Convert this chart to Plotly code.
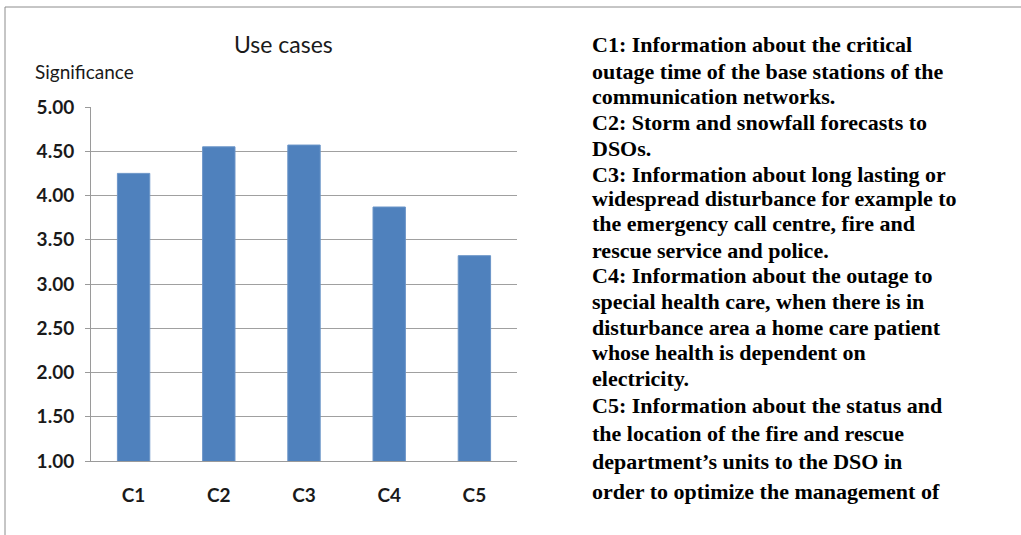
import plotly.graph_objects as go

# data
cases = ["C1", "C2", "C3", "C4", "C5"]
significance = [4.25, 4.55, 4.57, 3.87, 3.32]
y_ticks = [1.0, 1.5, 2.0, 2.5, 3.0, 3.5, 4.0, 4.5, 5.0]

notes = [
    "C1: Information about the critical",
    "outage time of the base stations of the",
    "communication networks.",
    "C2: Storm and snowfall forecasts to",
    "DSOs.",
    "C3: Information about long lasting or",
    "widespread disturbance for example to",
    "the emergency call centre, fire and",
    "rescue service and police.",
    "C4: Information about the outage to",
    "special health care, when there is in",
    "disturbance area a home care patient",
    "whose health is dependent on",
    "electricity.",
    "C5: Information about the status and",
    "the location of the fire and rescue",
    "department\u2019s units to the DSO in",
    "order to optimize the management of",
]
note_y = [45, 71, 96, 122, 148, 174, 198, 223, 250, 275, 301, 327, 352, 378, 405, 433, 462, 491]

W, H = 1021, 535
L, R, T, B = 91, 504, 107, 74
pw, ph = W - L - R, H - T - B


def px_x(x):
    return (x - L) / pw


def px_y(y):
    return (H - B - y) / ph


sans = "Lato, Carlito, Calibri, sans-serif"
serif = "Liberation Serif, Times New Roman, serif"

fig = go.Figure(
    go.Bar(x=cases, y=significance, marker=dict(color="#4f81bd", line=dict(color="#6b95c8", width=1)),
           width=0.38)
)

fig.update_layout(
    width=W, height=H,
    margin=dict(l=L, r=R, t=T, b=B),
    paper_bgcolor="white", plot_bgcolor="white",
    showlegend=False,
    font=dict(family=sans, color="#1a1a1a"),
)
fig.update_yaxes(
    range=[1, 5], tickvals=y_ticks, tickformat=".2f",
    tickfont=dict(size=19, weight="bold", family=sans, color="#1a1a1a"),
    showline=True, linecolor="#9a9a9a", linewidth=1,
    ticks="outside", ticklen=5, tickcolor="#9a9a9a", ticklabelstandoff=7,
    showgrid=True, gridcolor="#a0a0a0", gridwidth=1,
    zeroline=False, fixedrange=True,
)
fig.update_xaxes(
    tickfont=dict(size=19, weight="bold", family=sans, color="#1a1a1a"),
    showline=True, linecolor="#9a9a9a", linewidth=1,
    ticks="", ticklabelstandoff=17, fixedrange=True,
)

ann = [
    dict(text="Use cases", x=px_x(283), y=px_y(44), font=dict(size=23, family=sans, color="#1a1a1a")),
    dict(text="Significance", x=px_x(33), y=px_y(72), xanchor="left",
         font=dict(size=19, family=sans, color="#1a1a1a")),
]
for line, yy in zip(notes, note_y):
    ann.append(dict(text=line, x=px_x(590), y=px_y(yy), xanchor="left",
                    font=dict(size=22, weight="bold", family=serif, color="black")))
for a in ann:
    a.setdefault("xanchor", "center")
    fig.add_annotation(xref="paper", yref="paper", yanchor="middle", showarrow=False, **a)

# outer frame, top and left edges
fig.add_shape(type="line", xref="paper", yref="paper", x0=px_x(5), x1=px_x(1021), y0=px_y(7), y1=px_y(7),
              line=dict(color="#8c8c8c", width=1))
fig.add_shape(type="line", xref="paper", yref="paper", x0=px_x(5), x1=px_x(5), y0=px_y(7), y1=px_y(535),
              line=dict(color="#8c8c8c", width=1))

# page body has a default 8px margin; drop it so the figure sits at the window corner
fig.write_html("out.html", config={"displayModeBar": False},
               post_script="document.body.style.margin='0';")
